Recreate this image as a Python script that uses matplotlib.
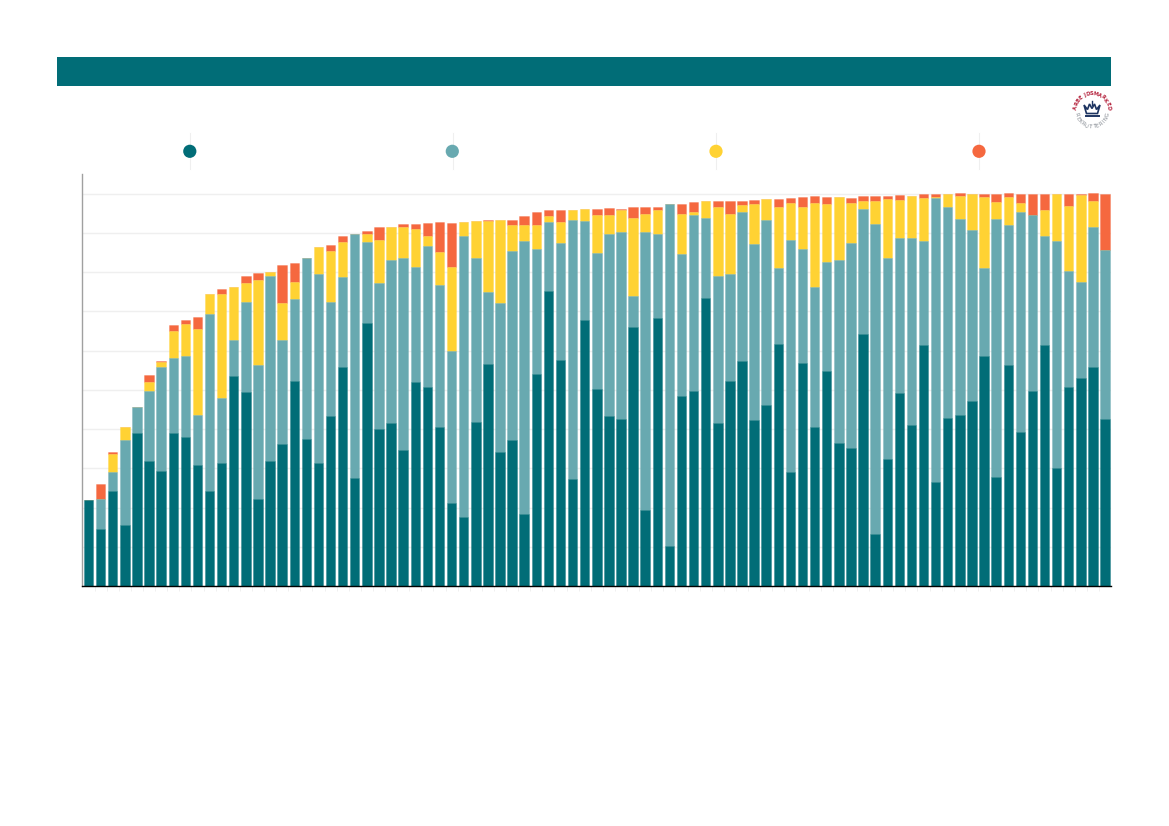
import numpy as np
import matplotlib
matplotlib.use("Agg")
import matplotlib.pyplot as plt
from matplotlib.colors import to_rgba
from matplotlib.patches import Rectangle, Circle, Polygon

dark = [21.9,14.6,24.3,15.6,39.1,31.9,29.2,39.1,37.9,30.9,24.3,31.4,53.4,49.4,22.2,31.9,36.3,
        52.2,37.5,31.4,43.4,55.7,27.6,66.9,40.1,41.6,34.6,52.1,50.6,40.6,21.2,17.6,41.9,56.7,
        34.2,37.3,18.4,54.1,75.1,57.7,27.3,67.9,50.3,43.4,42.6,66.1,19.4,68.4,10.2,48.5,49.8,
        73.3,41.6,52.3,57.4,42.4,46.2,61.8,29.1,56.9,40.6,54.9,36.5,35.2,64.1,13.3,32.4,49.3,
        41.1,61.3,26.6,42.9,43.7,47.2,58.5,27.8,56.3,39.3,49.8,61.5,30.1,50.8,53.1,55.7,42.6]
teal = [0.1,7.5,4.7,21.7,6.6,17.9,26.7,18.9,20.7,12.6,44.9,16.4,9.4,22.9,34.2,47.0,26.5,
        20.9,46.2,48.0,28.9,23.0,62.0,20.7,37.0,41.6,48.9,29.2,36.0,36.1,38.6,71.6,41.6,18.2,
        37.8,48.0,69.4,31.7,17.6,29.6,65.9,25.0,34.6,46.3,47.5,7.7,70.7,21.3,87.2,36.1,44.7,
        20.4,37.5,27.3,37.8,44.7,47.0,19.2,59.0,29.1,35.6,27.8,46.5,52.1,32.0,78.9,51.3,39.3,
        47.7,26.6,72.4,53.6,49.8,43.5,22.6,65.8,35.6,55.9,44.8,27.7,57.7,29.4,24.3,35.7,43.0]
yellow = [0,0,4.6,3.2,0,2.1,1.1,7.1,8.1,22.1,5.3,26.7,13.4,5.0,21.7,1.0,9.4,
          4.3,0,6.9,13.1,8.9,0,2.0,11.2,8.4,7.9,9.6,2.6,8.3,21.6,3.5,9.4,18.0,
          21.3,6.6,4.3,6.1,1.5,5.4,2.6,3.2,9.7,4.8,5.6,19.9,4.8,6.0,0,10.2,0.8,
          4.3,17.4,15.2,2.0,10.2,5.4,15.7,9.6,10.6,21.3,14.7,16.1,10.3,1.9,5.9,14.9,9.7,
          10.7,10.9,0.1,3.5,5.9,9.3,18.1,4.2,7.3,2.4,0,6.5,12.2,16.6,22.2,6.8,0]
red = [0,3.8,0.6,0,0,2.0,0.3,1.5,1.1,3.0,0,1.1,0,1.6,1.6,0,9.5,
       4.9,0,0,1.6,1.7,0,1.0,3.3,0,0.8,1.3,3.2,7.7,11.2,0,0,0.3,
       0,1.4,2.3,3.3,1.5,3.1,0,0,1.5,1.8,0.5,2.8,1.7,0.9,0,2.6,2.6,
       0,1.5,3.4,1.0,1.2,0,2.0,1.1,2.6,1.8,1.8,0,1.4,1.4,1.3,0.9,1.3,
       0,1.1,0.9,0,0.7,0,0.8,2.2,0.9,2.4,5.4,4.3,0,3.2,0.4,1.9,14.4]
grid_values = [0,10,20,30,40,50,60,70,80,90,100]
logo_top = "ARBEJDSMARKED"
logo_bottom = "REKRUTTERING"

C_DARK, C_TEAL, C_YELLOW, C_RED = "#016D77", "#68A9B0", "#FFD233", "#F5683F"
W, H = 1169, 826

fig = plt.figure(figsize=(W/100, H/100), dpi=100, facecolor="white")

# page furniture, in pixel coordinates
bg = fig.add_axes([0, 0, 1, 1], zorder=0)
bg.set_xlim(0, W); bg.set_ylim(H, 0); bg.axis("off")
bg.add_patch(Rectangle((57.3, 57.3), 1053.7, 28.7, fc=C_DARK, ec="none"))
for x, c in zip([189.8, 452.3, 716, 979], [C_DARK, C_TEAL, C_YELLOW, C_RED]):
    bg.plot([x+0.4, x+0.4], [133, 169], color="#efefef", lw=0.8, zorder=1)
    bg.add_patch(Circle((x, 151.3), 6.6, fc=c, ec="none", zorder=2))

# logo
cx, cy, r = 1092.0, 110.3, 16.6
for txt, a0, a1, col, sgn in [(logo_top, 170, 10, "#B5253F", 1),
                              (logo_bottom, 195, 345, "#7d838b", -1)]:
    for ch, a in zip(txt, np.linspace(a0, a1, len(txt))):
        t = np.deg2rad(a)
        bg.text(cx + r*np.cos(t), cy - r*np.sin(t), ch, fontsize=3.7, color=col,
                fontweight="bold" if sgn == 1 else "normal",
                rotation=a-90 if sgn == 1 else a+90, rotation_mode="anchor",
                ha="center", va="center", family="DejaVu Sans")
bg.add_patch(Polygon([(1084,105),(1087.5,109.5),(1089.5,104),(1092,108.5),(1094.5,104),
                      (1096.5,109.5),(1100,105),(1097.5,113.5),(1086.5,113.5)],
                     fc="none", ec="#1D3461", lw=1.2))
bg.plot([1085.5,1098.5],[115.5,115.5], color="#1D3461", lw=1.4)
bg.plot([1092,1092],[101,104.5], color="#1D3461", lw=1.0)

# chart
ax = fig.add_axes([82.5/W, 1-586/H, 1028.6/W, 412/H], zorder=1)
ax.patch.set_alpha(0)
x = np.arange(len(dark))
bottom = np.zeros(len(dark))
for z, (vals, c) in enumerate(zip([dark, teal, yellow, red], [C_DARK, C_TEAL, C_YELLOW, C_RED])):
    v = np.array(vals)
    ax.bar(x, v, bottom=bottom, width=0.78, color=c,
           edgecolor=to_rgba(c, 0.35), linewidth=0.6, zorder=6-z)
    bottom += v

ax.set_xlim(-0.5, len(dark)-0.5)
ax.set_ylim(0, 105)
ax.set_yticks(grid_values)
ax.set_yticklabels([])
ax.grid(axis="y", color="#efefef", lw=1.0, zorder=0)
ax.set_axisbelow(True)
ax.tick_params(axis="y", length=0)
ax.set_xticks(x[:-1]+0.5)
ax.set_xticklabels([])
ax.tick_params(axis="x", length=3.5, color="#f0f0f0", width=0.7)
for s in ["top", "right"]:
    ax.spines[s].set_visible(False)
ax.spines["left"].set_color("#a0a0a0")
ax.spines["left"].set_linewidth(1.0)
ax.spines["bottom"].set_color("black")
ax.spines["bottom"].set_linewidth(1.0)
ax.spines["bottom"].set_zorder(8)

fig.savefig("out.png", dpi=100, facecolor="white")
